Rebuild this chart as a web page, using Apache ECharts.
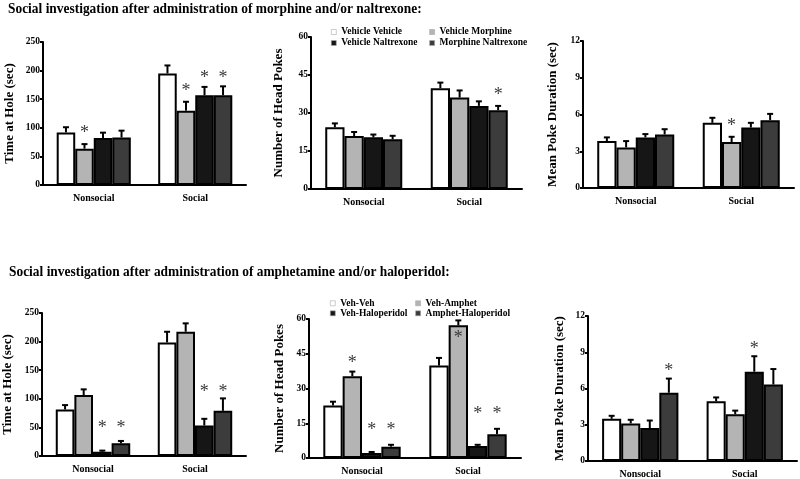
<!DOCTYPE html>
<html>
<head>
<meta charset="utf-8">
<script src="https://cdn.jsdelivr.net/npm/echarts@6/dist/echarts.min.js"></script>
<style>html,body{margin:0;padding:0;background:#fff;}#c{width:800px;height:479px;}</style>
</head>
<body>
<div id="c"></div>
<script>
// ---------- DATA ----------
const categories = ['Nonsocial', 'Social'];
const groupsA = ['Vehicle Vehicle', 'Vehicle Morphine', 'Vehicle Naltrexone', 'Morphine Naltrexone'];
const groupsB = ['Veh-Veh', 'Veh-Amphet', 'Veh-Haloperidol', 'Amphet-Haloperidol'];
const titleA = 'Social investigation after administration of morphine and/or naltrexone:';
const titleB = 'Social investigation after administration of amphetamine and/or haloperidol:';

// rows = groups, columns = categories [Nonsocial, Social]
const timeA_mean = [[92, 195], [63.5, 130], [82, 157], [83, 157]];
const timeA_sem  = [[9, 14], [8, 15.5], [9.5, 14.5], [12, 15.5]];
const timeA_star = [[null, null], [98, 170], [null, 194], [null, 194]];

const pokesA_mean = [[24.4, 39.8], [20.9, 36.1], [20.4, 32.8], [19.6, 31.1]];
const pokesA_sem  = [[1.5, 2.2], [1.6, 2.8], [1.1, 1.8], [1.4, 1.7]];
const pokesA_star = [[null, null], [null, null], [null, null], [null, 38.4]];

const durA_mean = [[3.83, 5.32], [3.31, 3.75], [4.13, 4.94], [4.37, 5.54]];
const durA_sem  = [[0.3, 0.41], [0.52, 0.43], [0.27, 0.38], [0.43, 0.51]];
const durA_star = [[null, null], [null, 5.4], [null, null], [null, null]];

const timeB_mean = [[81.4, 198.5], [106.6, 217.2], [7.6, 53.3], [22.2, 79]];
const timeB_sem  = [[7.6, 18.7], [9.9, 14.7], [1.8, 11.7], [4.1, 21.7]];
const timeB_star = [[null, null], [null, null], [55, 119], [55, 119]];

const pokesB_mean = [[22.7, 39.9], [35.3, 57.3], [2.15, 5.2], [4.9, 10.3]];
const pokesB_sem  = [[1.6, 3.3], [2.0, 2.1], [0.45, 0.5], [0.8, 2.3]];
const pokesB_star = [[null, null], [42.5, 53.3], [13.5, 20.7], [13.5, 20.7]];

const durB_mean = [[3.49, 4.94], [3.11, 3.87], [2.73, 7.39], [5.65, 6.33]];
const durB_sem  = [[0.25, 0.32], [0.3, 0.3], [0.62, 1.28], [1.17, 1.28]];
const durB_star = [[null, null], [null, null], [null, 9.57], [7.77, null]];

const yNames = ['Time at Hole (sec)', 'Number of Head Pokes', 'Mean Poke Duration (sec)'];
const yTicksTime = [0, 50, 100, 150, 200, 250];
const yTicksPokes = [0, 15, 30, 45, 60];
const yTicksDur = [0, 3, 6, 9, 12];

// ---------- LAYOUT / STYLE ----------
const FONT = '"Liberation Serif", "Times New Roman", serif';
const colors = ['#ffffff', '#b4b4b4', '#161616', '#3c3c3c'];
const GAP = 0.27;

const panels = [
  {grid: {left: 43, top: 42, width: 203, height: 143}, name: yNames[0], ticks: yTicksTime, mean: timeA_mean, sem: timeA_sem, star: timeA_star, groups: groupsA, gap: 27},
  {grid: {left: 311, top: 37, width: 211, height: 152}, name: yNames[1], ticks: yTicksPokes, mean: pokesA_mean, sem: pokesA_sem, star: pokesA_star, groups: groupsA, gap: 26},
  {grid: {left: 583, top: 41, width: 211, height: 147}, name: yNames[2], ticks: yTicksDur, mean: durA_mean, sem: durA_sem, star: durA_star, groups: groupsA, gap: 24},
  {grid: {left: 41, top: 313, width: 205, height: 143}, name: yNames[0], ticks: yTicksTime, mean: timeB_mean, sem: timeB_sem, star: timeB_star, groups: groupsB, gap: 28},
  {grid: {left: 309, top: 319, width: 212, height: 139}, name: yNames[1], ticks: yTicksPokes, mean: pokesB_mean, sem: pokesB_sem, star: pokesB_star, groups: groupsB, gap: 23},
  {grid: {left: 588, top: 316, width: 209, height: 147}, name: yNames[2], ticks: yTicksDur, mean: durB_mean, sem: durB_sem, star: durB_star, groups: groupsB, gap: 22}
];

function barX(api, c, s) {
  const bw = api.size([1, 0])[0];
  const groupW = bw * (1 - GAP);
  const barW = groupW / 4;
  const center = api.coord([c, 0])[0];
  return center - groupW / 2 + (s + 0.5) * barW;
}

const grids = [], xAxes = [], yAxes = [], series = [];
panels.forEach((p, pi) => {
  grids.push(Object.assign({containLabel: false}, p.grid));
  xAxes.push({
    type: 'category', gridIndex: pi, data: categories,
    axisLine: {lineStyle: {color: '#000', width: 2}},
    axisTick: {length: 4, lineStyle: {color: '#000', width: 2}},
    axisLabel: {color: '#000', fontFamily: FONT, fontWeight: 'bold', fontSize: 10, margin: 8}
  });
  const ticks = p.ticks;
  yAxes.push({
    type: 'value', gridIndex: pi, min: ticks[0], max: ticks[ticks.length - 1], interval: ticks[1] - ticks[0],
    name: p.name, nameLocation: 'middle', nameGap: p.gap,
    nameTextStyle: {color: '#000', fontFamily: FONT, fontWeight: 'bold', fontSize: 13},
    axisLine: {show: true, lineStyle: {color: '#000', width: 2}},
    axisTick: {show: true, length: 3, lineStyle: {color: '#000', width: 2}},
    splitLine: {show: false},
    axisLabel: {color: '#000', fontFamily: FONT, fontWeight: 'bold', fontSize: 9.5, margin: 3}
  });
  p.groups.forEach((g, s) => {
    series.push({
      type: 'bar', name: g, xAxisIndex: pi, yAxisIndex: pi,
      data: p.mean[s], barGap: '0%', barCategoryGap: (GAP * 100) + '%',
      itemStyle: {color: colors[s], borderColor: '#000', borderWidth: 2},
      z: 2
    });
  });
  const errData = [], starData = [];
  for (let s = 0; s < 4; s++) {
    for (let c = 0; c < 2; c++) {
      errData.push([c, s, p.mean[s][c], p.sem[s][c]]);
      if (p.star[s][c] != null) starData.push([c, s, p.star[s][c]]);
    }
  }
  series.push({
    type: 'custom', xAxisIndex: pi, yAxisIndex: pi, data: errData, clip: false, z: 5,
    encode: {x: 0, y: 2}, silent: true,
    renderItem: function (params, api) {
      const c = api.value(0), s = api.value(1), m = api.value(2), e = api.value(3);
      const x = barX(api, c, s);
      const y0 = api.coord([c, m])[1];
      const y1 = api.coord([c, m + e])[1];
      return {type: 'group', children: [
        {type: 'line', shape: {x1: x, y1: y0, x2: x, y2: y1}, style: {stroke: '#000', lineWidth: 2}},
        {type: 'line', shape: {x1: x - 3, y1: y1, x2: x + 3, y2: y1}, style: {stroke: '#000', lineWidth: 2}}
      ]};
    }
  });
  series.push({
    type: 'custom', xAxisIndex: pi, yAxisIndex: pi, data: starData, clip: false, z: 6,
    encode: {x: 0, y: 2}, silent: true,
    renderItem: function (params, api) {
      const c = api.value(0), s = api.value(1), v = api.value(2);
      const x = barX(api, c, s);
      const y = api.coord([c, v])[1];
      return {type: 'text', x: x, y: y + 4, style: {text: '*', fill: '#3a3a3a', fontSize: 18, fontFamily: FONT, align: 'center', verticalAlign: 'middle'}};
    }
  });
});

const legendText = {color: '#000', fontFamily: FONT, fontWeight: 'bold', fontSize: 9.5};
const option = {
  animation: false,
  backgroundColor: '#fff',
  grid: grids, xAxis: xAxes, yAxis: yAxes, series: series,
  legend: [
    {data: groupsA, left: 331, top: 26.5, width: 240, orient: 'horizontal', padding: 0, itemGap: 0,
     itemWidth: 5, itemHeight: 5, icon: 'rect', selectedMode: false,
     itemStyle: {borderWidth: 0.6, borderColor: '#aaa'},
     textStyle: Object.assign({width: 88, lineHeight: 11}, legendText)},
    {data: groupsB, left: 330, top: 298.3, width: 240, orient: 'horizontal', padding: 0, itemGap: 0,
     itemWidth: 5, itemHeight: 5, icon: 'rect', selectedMode: false,
     itemStyle: {borderWidth: 0.6, borderColor: '#aaa'},
     textStyle: Object.assign({width: 75, lineHeight: 10}, legendText)}
  ],
  graphic: [
    {type: 'text', x: 8, y: 9, scaleX: 0.925, style: {text: titleA, fill: '#000', fontSize: 14.5, fontWeight: 'bold', fontFamily: FONT, verticalAlign: 'middle'}},
    {type: 'text', x: 9, y: 272, scaleX: 0.925, style: {text: titleB, fill: '#000', fontSize: 14.5, fontWeight: 'bold', fontFamily: FONT, verticalAlign: 'middle'}}
  ]
};
const chart = echarts.init(document.getElementById('c'), null, {renderer: 'canvas'});
chart.setOption(option);
</script>
</body>
</html>
